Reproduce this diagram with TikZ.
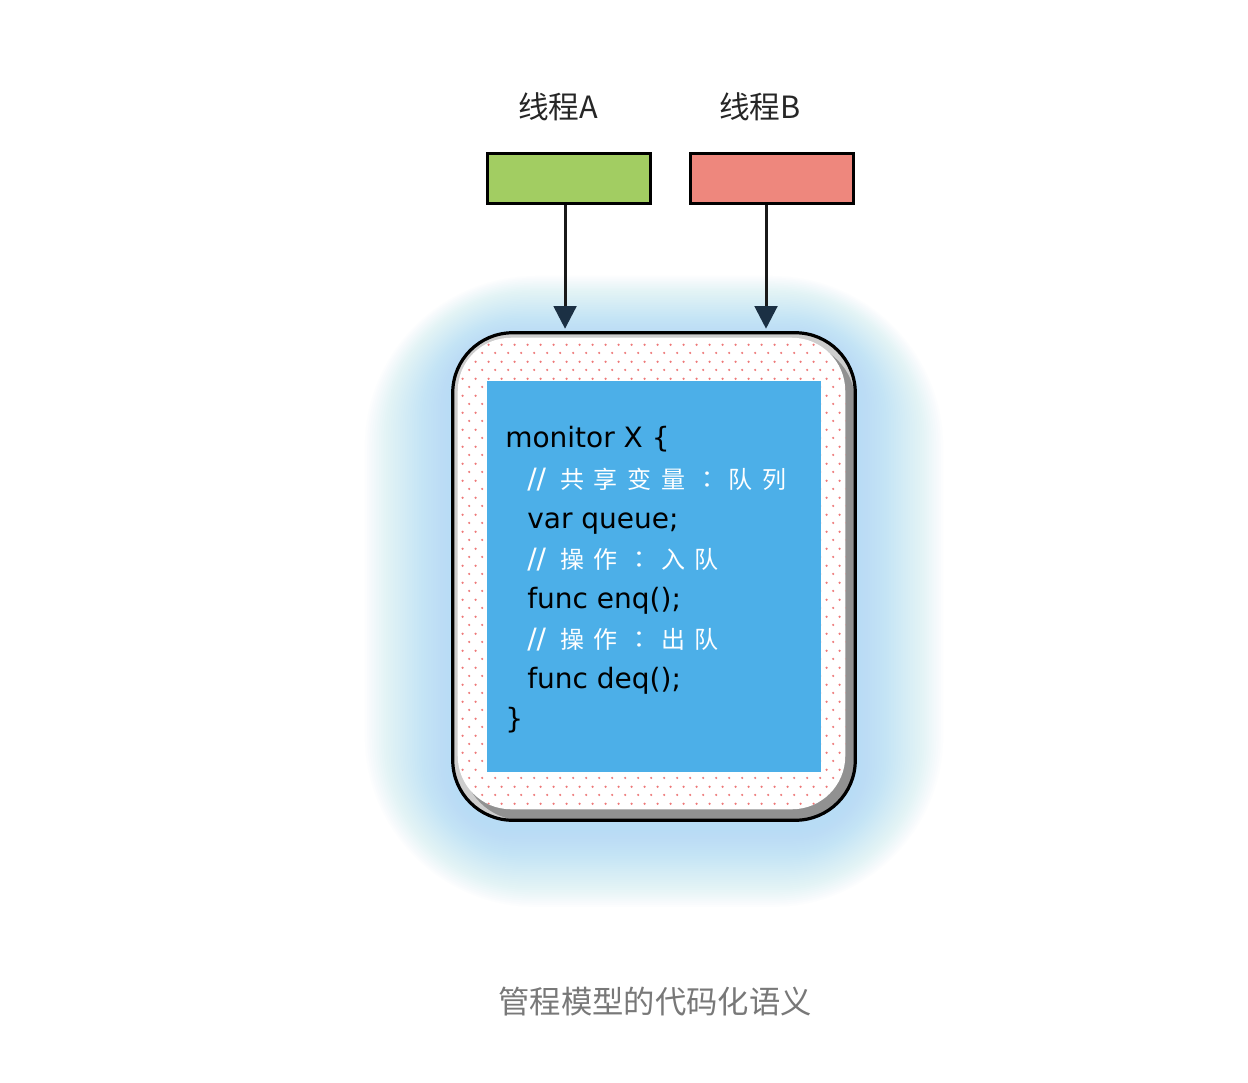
\documentclass[tikz,border=0pt]{standalone}
\usepackage{fontspec}
\setmainfont{DejaVu Sans}
\newfontfamily\cjk{Noto Sans CJK SC}
\newfontfamily\cjktc{Noto Sans CJK TC}
\newfontfamily\codefont{DejaVu Sans}
\usetikzlibrary{arrows.meta,patterns.meta,calc}
\definecolor{glowc}{RGB}{165,220,245}
\definecolor{greenbox}{RGB}{162,205,98}
\definecolor{redbox}{RGB}{238,135,125}
\definecolor{codeblue}{RGB}{76,175,232}
\definecolor{arrowc}{RGB}{27,48,68}
\definecolor{dotc}{RGB}{238,120,120}
\definecolor{boxlight}{RGB}{205,205,205}
\definecolor{boxdark}{RGB}{145,145,145}
\definecolor{captiongray}{RGB}{120,120,120}
\tikzdeclarepattern{
  name=pinkdots,
  type=uncolored,
  bottom left={(0pt,0pt)},
  top right={(10pt,12.5pt)},
  tile size={(10pt,12.5pt)},
  code={\fill (2.5pt,3.1pt) circle (0.95pt); \fill (7.5pt,9.35pt) circle (0.95pt);}
}
\newcommand\cc[1]{\makebox[25.3pt]{#1}}
\begin{document}
\begin{tikzpicture}[x=0.75pt,y=-0.75pt,
  thread/.style={draw=black, line width=2.25pt, minimum width=122.25pt, minimum height=37.5pt, inner sep=0},
  tlabel/.style={font=\cjk\fontsize{23pt}{26pt}\selectfont, text=black!85, inner sep=0},
  arr/.style={line width=2.25pt, draw=black!90, shorten >=3pt, -{Triangle[length=17pt,width=17pt,color=arrowc,fill=arrowc]}},
  codeline/.style={anchor=base west, inner sep=0, font=\codefont\fontsize{21pt}{24pt}\selectfont, text=black},
  cmtline/.style={anchor=base west, inner sep=0, text=white}
]
\fill[white] (0,0) rectangle (1248,1082);
\useasboundingbox (0,0) rectangle (1248,1082);

% monitor frame anchor node
\node[minimum width=301.5pt, minimum height=365.25pt, inner sep=0] (mon) at (654,576.5) {};

% glow
\foreach \e in {2.5,5,...,92.5} {
  \fill[glowc, opacity=0.03, rounded corners={(45+0.9*\e)*1pt}]
    ($(mon.north west)+(-0.95*\e,-0.7*\e+8)$) rectangle ($(mon.south east)+(0.95*\e,0.85*\e+8)$);
}

% frame
\fill[boxlight, rounded corners=45pt] (mon.north west) rectangle (mon.south east);
\fill[boxdark, rounded corners=45pt] ($(mon.north west)+(10,10)$) rectangle (mon.south east);
\fill[white, rounded corners=40pt] ($(mon.north west)+(5,5)$) rectangle ($(mon.south east)+(-10,-11)$);
\fill[pattern=pinkdots, pattern color=dotc, rounded corners=40pt] ($(mon.north west)+(5,5)$) rectangle ($(mon.south east)+(-10,-11)$);
\draw[line width=2.4pt, rounded corners=45pt] (mon.north west) rectangle (mon.south east);

% code area
\node[fill=codeblue, minimum width=250.5pt, minimum height=293.25pt, inner sep=0] (code) at (654,576.5) {};

% code text
\node[codeline] (l1) at (505,447) {monitor X \{};
\node[cmtline] (l2) at (527,488) {\codefont\fontsize{21pt}{24pt}\selectfont //\hspace{6.8pt}\cjk\fontsize{18pt}{20pt}\selectfont\cc{共}\cc{享}\cc{变}\cc{量}\cc{\cjktc ：}\cc{队}\cc{列}};
\node[codeline] (l3) at (527,528) {var queue;};
\node[cmtline] (l4) at (527,568) {\codefont\fontsize{21pt}{24pt}\selectfont //\hspace{6.8pt}\cjk\fontsize{18pt}{20pt}\selectfont\cc{操}\cc{作}\cc{\cjktc ：}\cc{入}\cc{队}};
\node[codeline] (l5) at (527,608) {func enq();};
\node[cmtline] (l6) at (527,648) {\codefont\fontsize{21pt}{24pt}\selectfont //\hspace{6.8pt}\cjk\fontsize{18pt}{20pt}\selectfont\cc{操}\cc{作}\cc{\cjktc ：}\cc{出}\cc{队}};
\node[codeline] (l7) at (527,688) {func deq();};
\node[codeline] (l8) at (505,728) {\}};

% threads
\node[thread, fill=greenbox] (ta) at (568.5,178) {};
\node[thread, fill=redbox] (tb) at (772,178) {};
\node[tlabel] (la) at (558,107) {线程A};
\node[tlabel] (lb) at (760,107) {线程B};

% arrows
\draw[arr] ([xshift=-2.6pt]ta.south) -- ([xshift=-2.6pt]ta.south |- mon.north);
\draw[arr] ([xshift=-4.5pt]tb.south) -- ([xshift=-4.5pt]tb.south |- mon.north);

% caption
\node[inner sep=0, text=captiongray, font=\cjk\fontsize{23.5pt}{26pt}\selectfont] (cap) at (655,1002) {管程模型的代码化语义};
\end{tikzpicture}
\end{document}
